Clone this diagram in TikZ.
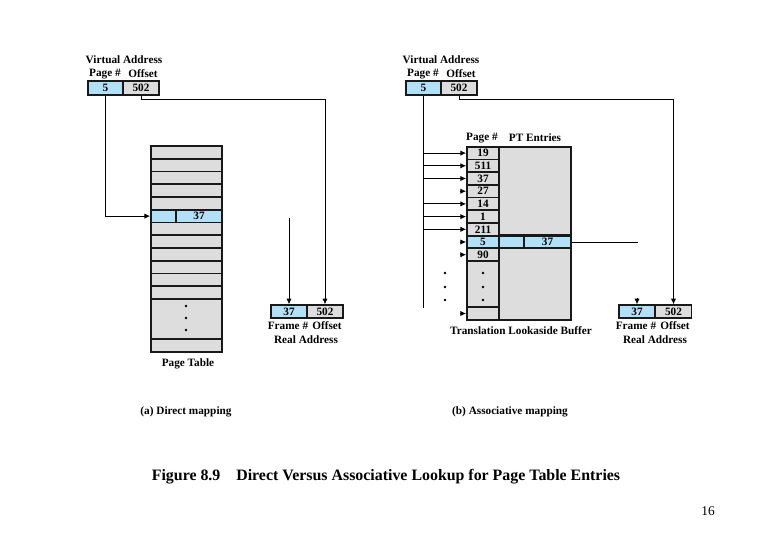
\documentclass[tikz,border=0pt]{standalone}
\usepackage{fontspec}
\setmainfont{Liberation Serif}
\usetikzlibrary{arrows.meta, positioning}
\definecolor{cellblue}{RGB}{178,224,246}
\definecolor{cellgray}{RGB}{221,221,221}
\definecolor{edgegray}{RGB}{25,25,25}
\begin{document}
\begin{tikzpicture}[x=0.025cm,y=-0.025cm]

\tikzset{cell/.style = {shape=rectangle,draw=edgegray,line width=1.3pt,fill=cellgray,inner sep=0pt,minimum height=3.19mm,font=\fontsize{8}{9}\selectfont\bfseries}}
\tikzset{bluecell/.style = {cell,fill=cellblue}}
\tikzset{label/.style = {inner sep=0pt,font=\fontsize{8}{9}\selectfont\bfseries}}
\tikzset{wire/.style = {line width=0.6pt}}
\tikzset{link/.style = {wire,-{Latex[length=1.4mm,width=1.3mm]}}}
\useasboundingbox (0,0) rectangle (780,540);

% (a) direct mapping
\node[label] (vaa) at (124,60) {Virtual Address};
\node[label] (vaapg) at (105,74) {Page \#};
\node[label] (vaaof) at (143,74) {Offset};
\node[bluecell,minimum width=8.75mm,minimum height=3.5mm] (va1) at (105.5,88) {5};
\node[cell,minimum width=9mm,minimum height=3.5mm] (va2) at (141,88) {502};

% page table
\node[cell,minimum width=17.75mm] (pt0) at (186.5,152.4) {};
\node[cell,minimum width=17.75mm] (pt1) at (186.5,165.1) {};
\node[cell,minimum width=17.75mm] (pt2) at (186.5,177.9) {};
\node[cell,minimum width=17.75mm] (pt3) at (186.5,190.6) {};
\node[cell,minimum width=17.75mm] (pt4) at (186.5,203.4) {};
\node[bluecell,minimum width=6.25mm] (pte1) at (163.5,216.1) {};
\node[bluecell,minimum width=11.5mm] (pte2) at (199,216.1) {37};
\node[cell,minimum width=17.75mm] (pt6) at (186.5,228.9) {};
\node[cell,minimum width=17.75mm] (pt7) at (186.5,241.6) {};
\node[cell,minimum width=17.75mm] (pt8) at (186.5,254.4) {};
\node[cell,minimum width=17.75mm] (pt9) at (186.5,267.1) {};
\node[cell,minimum width=17.75mm] (pt10) at (186.5,279.9) {};
\node[cell,minimum width=17.75mm] (pt11) at (186.5,292.6) {};
\node[cell,minimum width=17.75mm,minimum height=10mm] (ptdots) at (186.5,319) {};
\node[cell,minimum width=17.75mm,minimum height=3.25mm] (ptlast) at (186.5,345.5) {};
\foreach \y in {306,318,330} \fill (186,\y) circle (1.4);
\node[label] (ptname) at (188,364) {Page Table};

% real address (a)
\node[bluecell,minimum width=9mm,minimum height=3.25mm] (ra1) at (289,311.7) {37};
\node[cell,minimum width=9mm,minimum height=3.25mm] (ra2) at (325,311.7) {502};
\node[label] (raafr) at (288,326) {Frame \#};
\node[label] (raaof) at (327,326) {Offset};
\node[label] (raa) at (306,340) {Real Address};
\node[label] (capa) at (186,412) {(a) Direct mapping};

\coordinate (frmfree) at (289,218);
\coordinate (offbend) at (325,99);
\draw[link] (va1.south) |- (pte1.west);
\draw[link] (va2.south) |- (offbend) -- (ra2.north);
\draw[link] (frmfree) -- (ra1.north);

% (b) associative mapping
\node[label] (vab) at (441,60) {Virtual Address};
\node[label] (vabpg) at (423,74) {Page \#};
\node[label] (vabof) at (461,74) {Offset};
\node[bluecell,minimum width=8.75mm,minimum height=3.5mm] (vb1) at (423.5,88) {5};
\node[cell,minimum width=9mm,minimum height=3.5mm] (vb2) at (459,88) {502};

% TLB
\node[label] (tlbpg) at (482,138) {Page \#};
\node[label] (tlbpt) at (535,138) {PT Entries};
\node[cell,minimum width=8mm] (t0) at (483,153.1) {19};
\node[cell,minimum width=8mm] (t1) at (483,165.8) {511};
\node[cell,minimum width=8mm] (t2) at (483,178.5) {37};
\node[cell,minimum width=8mm] (t3) at (483,191.2) {27};
\node[cell,minimum width=8mm] (t4) at (483,203.9) {14};
\node[cell,minimum width=8mm] (t5) at (483,216.6) {1};
\node[cell,minimum width=8mm] (t6) at (483,229.3) {211};
\node[bluecell,minimum width=8mm] (t7) at (483,242) {5};
\node[cell,minimum width=8mm] (t8) at (483,254.7) {90};
\node[cell,minimum width=8mm,minimum height=11.5mm] (tdots) at (483,284) {};
\node[cell,minimum width=8mm,minimum height=3.25mm] (tlast) at (483,313.5) {};
\node[cell,minimum width=18mm,minimum height=22.15mm] (pttop) at (535,191) {};
\node[bluecell,minimum width=6.25mm] (pte3) at (511.5,242) {};
\node[bluecell,minimum width=11.75mm] (pte4) at (547.5,242) {37};
\node[cell,minimum width=18mm,minimum height=17.9mm] (ptbot) at (535,284.2) {};
\foreach \y in {273,287,300} \fill (483,\y) circle (1.4);
\foreach \y in {273,287,300} \fill (445,\y) circle (1.4);
\node[label] (tlbname) at (521,331) {Translation Lookaside Buffer};

% real address (b)
\node[bluecell,minimum width=9mm,minimum height=3.25mm] (rb1) at (637,311.7) {37};
\node[cell,minimum width=9mm,minimum height=3.25mm] (rb2) at (673.5,311.7) {502};
\node[label] (rabfr) at (636,326) {Frame \#};
\node[label] (rabof) at (675,326) {Offset};
\node[label] (rab) at (655,340) {Real Address};
\node[label] (capb) at (510,412) {(b) Associative mapping};

\coordinate (pgdown) at (423.5,308);
\coordinate (offbend2) at (673.5,99);
\coordinate (pteout) at (638,242);
\draw[wire] (vb1.south) -- (pgdown);
\draw[link] (vb1.south |- t0.west) -- (t0.west);
\draw[link] (vb1.south |- t1.west) -- (t1.west);
\draw[link] (vb1.south |- t2.west) -- (t2.west);
\draw[link] ([xshift=-1.6mm]t3.west) -- (t3.west);
\draw[link] (vb1.south |- t4.west) -- (t4.west);
\draw[link] (vb1.south |- t5.west) -- (t5.west);
\draw[link] (vb1.south |- t6.west) -- (t6.west);
\draw[link] ([xshift=-1.6mm]t7.west) -- (t7.west);
\draw[link] ([xshift=-1.6mm]t8.west) -- (t8.west);
\draw[link] ([xshift=-1.6mm]tlast.west) -- (tlast.west);
\draw[wire] (pte4.east) -- (pteout);
\draw[link] ([yshift=1.6mm]rb1.north) -- (rb1.north);
\draw[link] (vb2.south) |- (offbend2) -- (rb2.north);

% caption
\node[inner sep=0pt,font=\fontsize{11.3}{13}\selectfont\bfseries] (fig) at (386,477) {Figure 8.9\quad Direct Versus Associative Lookup for Page Table Entries};
\node[inner sep=0pt,font=\fontsize{9.5}{11}\selectfont] (pgno) at (708,511) {16};

\end{tikzpicture}
\end{document}
